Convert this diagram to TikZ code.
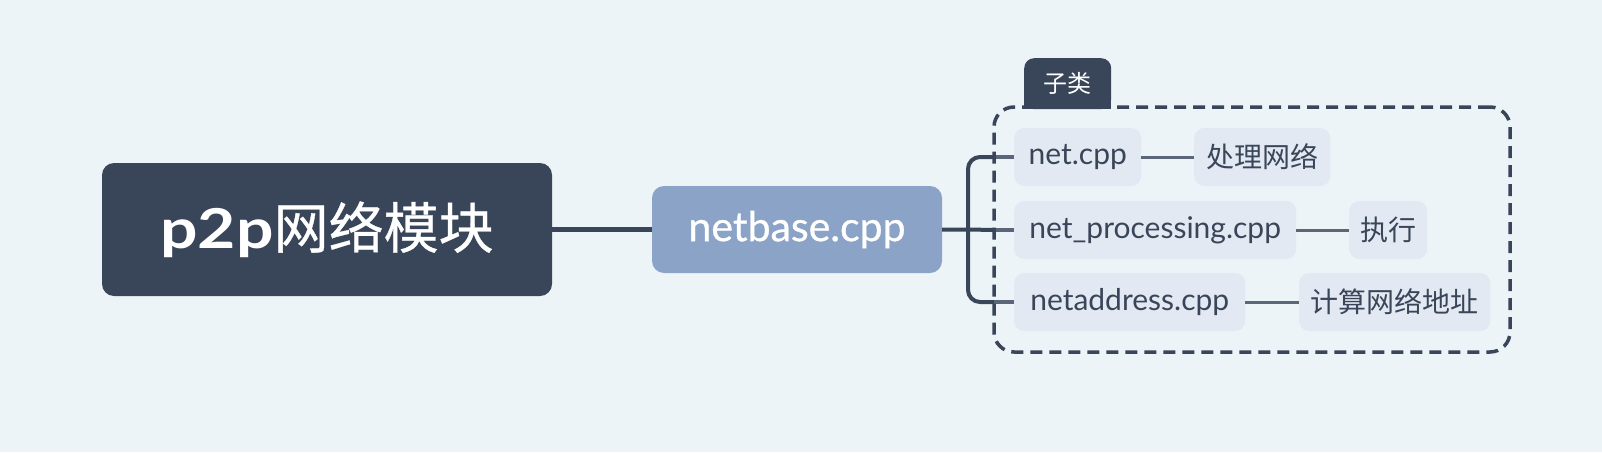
\documentclass[tikz,border=0pt]{standalone}
\usepackage{fontspec}
\setmainfont{Lato}
\newfontfamily\cjk{Noto Sans CJK SC}
\definecolor{bg}{HTML}{EDF4F8}
\definecolor{dark}{HTML}{394559}
\definecolor{nbc}{HTML}{8AA3C6}
\definecolor{chf}{HTML}{E3E9F2}
\definecolor{gl}{HTML}{5B6678}
\begin{document}
\begin{tikzpicture}[x=1pt,y=-1pt,
  mainbox/.style={fill=dark, text=white, rounded corners=12pt, minimum width=450pt,
    minimum height=133pt, inner sep=0pt, font=\fontsize{55}{55}\selectfont},
  nbbox/.style={fill=nbc, text=white, rounded corners=12pt, minimum width=290pt,
    minimum height=87pt, inner sep=0pt, font=\fontsize{41}{41}\selectfont\addfontfeatures{FakeBold=0.8}},
  leaf/.style={fill=chf, text=dark, rounded corners=10pt, minimum height=58pt,
    inner sep=0pt, anchor=west, font=\fontsize{30}{30}\selectfont},
  cnleaf/.style={leaf, font=\fontsize{28}{28}\selectfont\cjk},
  tabbox/.style={fill=dark, text=white, rounded corners=10pt, minimum width=87pt,
    minimum height=51pt, inner sep=0pt, font=\fontsize{24}{24}\selectfont\cjk},
  grpbox/.style={draw=dark, line width=3.5pt, dash pattern=on 12pt off 7pt,
    rounded corners=20pt, minimum width=516pt, minimum height=245pt, inner sep=0pt},
  trunk/.style={draw=dark, line width=5pt},
  brk/.style={draw=dark, line width=4pt},
  inl/.style={draw=gl, line width=4pt},
  gline/.style={draw=gl, line width=3pt}]
\fill[bg] (0,0) rectangle (1602,452);
\useasboundingbox (0,0) rectangle (1602,452);

\node[mainbox] (main) at (327,229.5) {{\bfseries\addfontfeatures{FakeStretch=1.2}p2p}{\cjk\addfontfeatures{FakeBold=0.6}网络模块}};
\node[nbbox] (nb) at (797,229.5) {netbase.cpp};

\coordinate (bk) at (968,229.5);
\coordinate (bd) at (994,229.5);

\node[leaf, minimum width=127pt] (c1) at (1014,157) {net.cpp};
\node[leaf, minimum width=282pt] (c2) at (1014,230) {net\_processing.cpp};
\node[leaf, minimum width=231pt] (c3) at (1014,302) {netaddress.cpp};

\node[cnleaf, minimum width=136pt] (g1) at (1194,157) {处理网络};
\node[cnleaf, minimum width=78pt] (g2) at (1349,230) {执行};
\node[cnleaf, minimum width=191pt] (g3) at (1299,302) {计算网络地址};

\draw[trunk] (main.east) -- (nb.west);
\draw[brk] (nb.east) -- (bk) -- (c2.west -| bd);
\draw[brk, rounded corners=12pt] (c1.west -| bd) -- (c1.west -| bk) -- (c3.west -| bk) -- (c3.west -| bd);
\draw[inl] (c1.west -| bd) -- (c1.west);
\draw[inl] (c2.west -| bd) -- (c2.west);
\draw[inl] (c3.west -| bd) -- (c3.west);
\draw[gline] (c1.east) -- (g1.west);
\draw[gline] (c2.east) -- (g2.west);
\draw[gline] (c3.east) -- (g3.west);

\node[grpbox] (grp) at (1252,229.5) {};
\node[tabbox, anchor=north west] (tab) at (1024,58) {子类};
\fill[dark] (tab.south west) ++(0,-14) rectangle (tab.south east);
\end{tikzpicture}
\end{document}
